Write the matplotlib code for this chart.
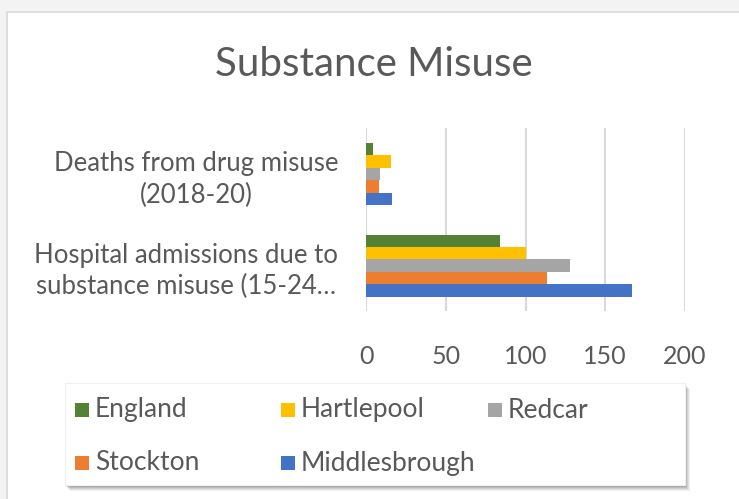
import matplotlib.pyplot as plt
from matplotlib.patches import Rectangle
import numpy as np

plt.rcParams['font.family'] = ['Lato', 'DejaVu Sans']

categories = ['Hospital admissions due to\nsubstance misuse (15-24\u2026',
              'Deaths from drug misuse\n(2018-20)']
series = ['Middlesbrough', 'Stockton', 'Redcar', 'Hartlepool', 'England']
colors = ['#4472C4', '#ED7D31', '#A5A5A5', '#FFC000', '#548235']
values = {
    'Middlesbrough': [166.6, 16.5],
    'Stockton': [113.5, 8.0],
    'Redcar': [127.7, 9.0],
    'Hartlepool': [100.5, 15.5],
    'England': [84.2, 4.4],
}
xticks = [0, 50, 100, 150, 200]

W, H = 739, 499
text_col = '#595959'
grid_col = '#d9d9d9'


def px(x, y):
    # pixel position (from top-left) -> figure fraction
    return x / W, 1 - y / H


fig = plt.figure(figsize=(W / 100, H / 100), dpi=100, facecolor='#f3f3f3')

# white chart area with thin grey border
x0, y0 = px(7, 12)
fig.patches.append(Rectangle((x0, -0.05), 1.1, y0 + 0.05, transform=fig.transFigure,
                             facecolor='white', edgecolor=grid_col, lw=1.2, zorder=-1))

fig.text(*px(374, 64), 'Substance Misuse', ha='center', va='center',
         fontsize=29, color=text_col)

ax = fig.add_axes([366 / W, 1 - 311.25 / H, 319 / W, 183 / H])
ax.set_facecolor('none')

n = len(series)
h = 12.4 / 91.5
y = np.arange(len(categories))
for i, (name, col) in enumerate(zip(series, colors)):
    off = (i - (n - 1) / 2) * h
    ax.barh(y + off, values[name], height=h, color=col, zorder=3)

ax.set_xlim(0, 200)
ax.set_ylim(-0.5, 1.5)
ax.set_xticks(xticks)
ax.set_yticks(y)
ax.set_yticklabels(categories, multialignment='center', linespacing=1.3)
ax.tick_params(axis='both', length=0, labelcolor=text_col)
ax.tick_params(axis='y', pad=20, labelsize=18.5)
ax.tick_params(axis='x', pad=24, labelsize=18)
ax.grid(axis='x', color=grid_col, lw=1.5, zorder=0)
ax.set_axisbelow(True)
for s in ax.spines.values():
    s.set_visible(False)

# legend box with soft drop shadow
lx0, ly0, lx1, ly1 = 65, 383, 685, 485
for k, a in zip(range(6, 0, -1), [0.07, 0.09, 0.11, 0.13, 0.15, 0.18]):
    bx, by = px(lx0 + k - 1, ly1 + k)
    fig.patches.append(Rectangle((bx, by), (lx1 - lx0) / W, (ly1 - ly0) / H,
                                 transform=fig.transFigure, facecolor='#404040',
                                 edgecolor='none', alpha=a, zorder=2))
bx, by = px(lx0, ly1)
fig.patches.append(Rectangle((bx, by), (lx1 - lx0) / W, (ly1 - ly0) / H,
                             transform=fig.transFigure, facecolor='white',
                             edgecolor='#f0f0f0', lw=0.8, zorder=3))

legend_order = ['England', 'Hartlepool', 'Redcar', 'Stockton', 'Middlesbrough']
col_x = [75, 281, 488]
row_y = [410, 463]
for j, name in enumerate(legend_order):
    mx = col_x[j % 3]
    my = row_y[j // 3]
    c = colors[series.index(name)]
    sx, sy = px(mx, my + 7)
    fig.patches.append(Rectangle((sx, sy), 14 / W, 14 / H, transform=fig.transFigure,
                                 facecolor=c, edgecolor='none', zorder=4))
    fig.text(*px(mx + 20, my), name, ha='left', va='center', fontsize=19,
             color=text_col, zorder=5)

fig.savefig('out.png', dpi=100, facecolor=fig.get_facecolor())
